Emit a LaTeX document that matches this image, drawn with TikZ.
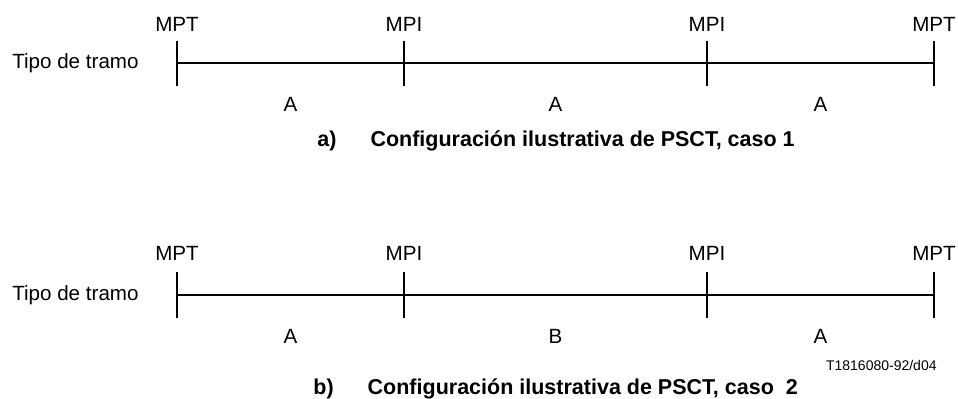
\documentclass[tikz,border=0pt]{standalone}
\usepackage{fontspec}
\setmainfont{Liberation Sans}
\usetikzlibrary{positioning}

\begin{document}
\begin{tikzpicture}[
  x=0.5pt, y=-0.5pt,
  font=\fontsize{10.3}{12}\selectfont,
  lbl/.style={inner sep=0pt},
  route/.style={line width=1pt},
  tickmark/.style={line width=1pt},
  seg/.style={below=16.5pt, inner sep=0pt},
  caption/.style={inner sep=0pt, anchor=base west, font=\fontsize{10.75}{12}\selectfont\bfseries},
  ref/.style={inner sep=0pt, anchor=east, font=\fontsize{7}{8}\selectfont}
]
\useasboundingbox (0,0) rectangle (958,398);

% a) caso 1
\coordinate (a1) at (177,63);
\coordinate (a2) at (404,63);
\coordinate (a3) at (707,63);
\coordinate (a4) at (934,63);

\node[lbl, left=19pt of a1] (tipoa) {Tipo de tramo};
\foreach \p/\t in {a1/MPT, a2/MPI, a3/MPI, a4/MPT} {
  \draw[tickmark] (\p) ++(0,-22) -- ++(0,45);
  \node[lbl, above=15.5pt of \p] (l\p) {\t};
}
\draw[route] (a1) -- node[seg] (sa1) {A} (a2) -- node[seg] (sa2) {A} (a3) -- node[seg] (sa3) {A} (a4);

\node[caption] (capa) at (317,146) {a)\hspace{17pt}Configuración ilustrativa de PSCT, caso 1};

% b) caso 2
\coordinate (b1) at (177,295);
\coordinate (b2) at (404,295);
\coordinate (b3) at (707,295);
\coordinate (b4) at (934,295);

\node[lbl, left=19pt of b1] (tipob) {Tipo de tramo};
\foreach \p/\t in {b1/MPT, b2/MPI, b3/MPI, b4/MPT} {
  \draw[tickmark] (\p) ++(0,-23) -- ++(0,46);
  \node[lbl, above=17pt of \p] (l\p) {\t};
}
\draw[route] (b1) -- node[seg] (sb1) {A} (b2) -- node[seg] (sb2) {B} (b3) -- node[seg] (sb3) {A} (b4);

\node[ref] (refno) at (937,365) {T1816080-92/d04};
\node[caption] (capb) at (313,394) {b)\hspace{17pt}Configuración ilustrativa de PSCT, caso\ \ 2};

\end{tikzpicture}
\end{document}
